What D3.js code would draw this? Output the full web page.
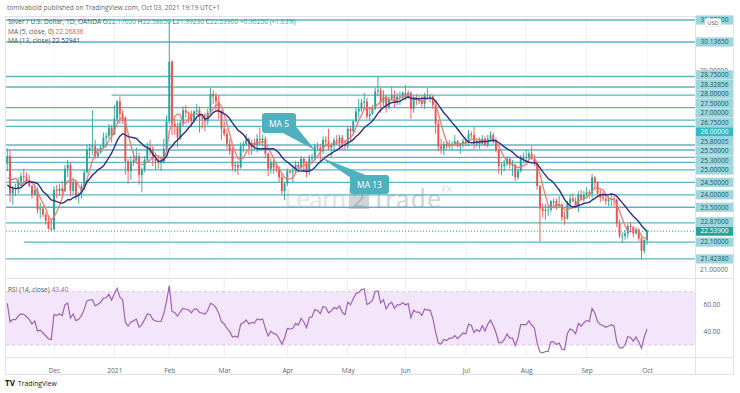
<!DOCTYPE html>
<html><head><meta charset="utf-8">
<script src="https://cdn.jsdelivr.net/npm/d3@7"></script>
<style>
body{margin:0;background:#fff;}
svg{display:block;font-family:"Open Sans","Noto Sans",sans-serif;}
</style></head><body>
<svg id="c" width="740" height="393"></svg>
<script>
// ---------- DATA ----------
const firstDay = "2020-11-06", lastDay = "2021-10-01";
const holidays = ["2020-12-25", "2021-01-01"];
// closes before the visible window (Oct 15 - Nov 5, 2020), used only to warm up MA / RSI
const warmupCloses = [24.25,24.35,24.60,24.55,25.15,24.65,24.65,24.35,24.45,23.30,23.45,23.75,24.20,24.45,23.95,25.25];

const opens = [
 25.25,25.55,24.05,24.25,24.25,24.55,24.75,24.70,24.55,24.35,24.00,24.20,23.40,23.45,23.20,22.95,22.65,
 22.60,24.20,24.15,24.25,24.15,25.05,25.20,24.15,24.50,23.95,24.05,24.35,24.90,25.80,25.90,25.95,25.55,25.70,25.90,26.30,26.35,26.70,
 26.40,27.05,27.75,27.25,27.10,25.35,24.95,25.30,25.40,25.55,24.80,25.00,25.40,25.90,25.85,25.45,25.35,25.30,25.30,25.85,
 26.95,29.35,26.85,26.75,26.30,26.90,27.40,27.30,27.25,26.95,27.35,27.40,27.10,27.05,26.95,27.30,28.05,27.95,27.75,27.35,
 26.65,26.45,26.05,25.75,25.15,25.20,25.10,25.95,26.05,26.25,25.95,26.05,26.00,26.25,26.20,26.25,25.65,25.05,25.30,25.10,25.05,24.70,24.15,
 24.45,24.95,24.90,24.95,25.20,25.10,25.45,25.25,24.90,25.45,25.50,25.95,25.90,25.75,26.20,26.15,25.90,26.00,26.20,26.15,26.30,26.05,
 25.95,26.65,26.55,26.95,27.35,27.45,27.70,27.75,27.15,27.25,27.45,28.15,28.20,27.70,27.95,27.50,27.85,28.00,27.70,27.95,27.95,
 28.10,28.00,28.10,27.45,27.90,27.80,27.80,27.65,28.00,27.95,27.95,27.60,26.85,25.95,25.85,26.05,25.95,26.05,26.05,26.15,25.95,26.05,
 26.15,26.10,26.45,26.40,26.05,26.15,26.05,26.25,26.00,26.25,26.40,26.15,25.80,25.15,25.15,25.25,25.45,25.20,25.20,24.70,24.95,25.50,
 25.50,25.50,25.65,25.45,25.30,24.35,23.45,23.35,23.40,23.40,23.75,23.75,23.55,23.60,23.10,23.05,23.65,23.85,23.75,23.55,24.00,23.85,
 24.00,24.10,24.05,24.70,24.50,24.05,23.90,23.85,23.75,23.80,23.85,23.80,22.85,22.35,22.35,22.45,22.75,22.70,22.45,22.60,22.25,21.75,
 22.1765];
const highs = [
 25.86,25.80,24.35,24.45,24.70,24.90,25.05,24.90,24.80,24.40,24.45,24.30,23.70,23.55,23.30,23.15,23.00,
 24.35,24.40,24.45,24.55,25.20,25.40,25.30,24.70,24.55,24.10,24.45,25.00,26.00,26.05,27.40,26.20,25.90,26.00,26.50,26.50,26.85,26.80,
 27.60,27.80,27.95,27.40,27.15,25.45,25.55,25.75,25.90,25.70,25.10,25.55,26.10,26.20,25.95,25.70,25.55,25.55,26.25,27.20,
 30.98,29.40,27.05,26.90,27.00,27.55,27.60,27.35,27.40,27.40,27.65,27.55,27.20,27.30,27.45,28.30,28.20,28.10,28.00,27.40,
 26.95,26.65,26.25,25.90,25.35,25.35,26.10,26.15,26.45,26.30,26.20,26.25,26.45,26.70,26.40,26.35,25.70,25.45,25.40,25.30,25.15,24.85,24.50,
 25.05,25.00,25.10,25.35,25.30,25.55,25.50,25.35,25.60,25.65,26.05,26.10,26.05,26.35,26.35,26.65,26.10,26.30,26.40,26.40,26.40,26.20,
 26.75,26.75,27.00,27.50,27.85,27.85,28.10,27.90,27.50,27.60,28.30,28.75,28.30,28.20,28.00,27.95,28.35,28.20,28.10,28.15,28.15,
 28.40,28.20,28.15,28.00,28.05,28.00,28.00,28.10,28.30,28.05,28.00,27.75,27.00,26.25,26.15,26.15,26.20,26.15,26.40,26.20,26.05,26.25,
 26.30,26.60,26.55,26.75,26.25,26.30,26.40,26.35,26.40,26.55,26.50,26.30,25.85,25.30,25.40,25.55,25.50,25.40,25.25,25.05,25.60,25.70,
 25.80,25.75,25.95,25.60,25.35,24.40,23.65,23.65,23.60,23.80,23.85,23.85,23.95,23.65,23.35,23.75,24.00,24.05,23.90,24.15,24.20,24.15,
 24.30,24.20,24.85,24.75,24.55,24.20,24.10,24.05,23.95,24.00,23.95,23.85,23.00,22.50,22.60,22.85,22.90,22.75,22.70,22.65,22.30,22.20,
 22.5865];
const lows = [
 24.95,23.70,23.60,23.95,24.05,24.35,24.45,24.45,24.30,23.85,23.95,23.25,23.05,23.10,22.80,22.60,22.55,
 22.60,23.85,23.95,23.90,24.10,24.70,23.95,24.00,23.80,23.65,23.85,24.20,24.85,25.45,25.60,25.45,25.45,25.65,25.85,25.90,26.25,26.10,
 26.40,26.90,26.85,26.85,24.80,24.45,24.60,25.15,25.25,24.40,24.10,24.90,25.30,25.60,25.15,25.00,25.05,24.95,25.25,25.75,
 26.85,26.40,26.40,25.90,26.20,26.75,27.10,26.90,26.70,26.90,27.20,26.50,26.65,26.55,26.80,27.25,27.65,27.40,27.05,26.20,
 26.35,25.85,25.60,24.95,24.90,24.80,25.05,25.70,25.95,25.60,25.60,25.80,25.70,26.00,25.95,25.50,24.75,24.85,24.85,24.90,24.50,24.00,23.78,
 24.35,24.85,24.50,24.85,24.90,25.00,24.95,24.70,24.80,25.25,25.40,25.75,25.35,25.65,25.95,25.80,25.50,25.80,26.00,25.80,25.80,25.80,
 25.85,26.15,26.45,26.90,27.10,27.35,27.40,27.05,26.95,27.20,27.40,27.95,27.30,27.55,27.30,27.45,27.80,27.50,27.60,27.60,27.80,
 27.80,27.85,27.05,27.30,27.60,27.65,27.50,27.45,27.90,27.70,27.45,26.45,25.75,25.65,25.60,25.85,25.85,25.80,25.95,25.90,25.65,25.90,
 25.95,25.95,26.25,25.85,25.90,25.85,26.00,25.95,25.90,26.15,26.05,25.70,24.85,24.80,24.95,25.15,25.05,24.75,24.55,24.60,24.90,25.30,
 25.30,25.40,25.40,25.15,24.20,22.10,23.10,23.00,23.15,23.30,23.45,23.40,23.50,22.95,22.80,23.00,23.55,23.70,23.45,23.30,23.80,23.70,
 23.85,23.85,23.85,24.25,23.90,23.70,23.75,23.60,23.55,23.55,23.55,22.70,22.25,22.05,22.20,22.25,22.50,22.30,22.40,22.15,21.42,21.65,
 21.9923];
const closes = [
 25.55,24.05,24.25,24.25,24.55,24.75,24.70,24.55,24.35,24.00,24.20,23.40,23.45,23.20,22.95,22.65,22.60,
 24.20,24.15,24.25,24.15,25.05,25.20,24.15,24.50,23.95,24.05,24.35,24.90,25.80,25.90,25.95,25.55,25.70,25.90,26.30,26.35,26.70,26.40,
 27.05,27.75,27.25,27.10,25.35,24.95,25.30,25.40,25.55,24.80,25.00,25.40,25.90,25.85,25.45,25.35,25.30,25.30,25.85,26.95,
 29.35,26.85,26.75,26.30,26.90,27.40,27.30,27.25,26.95,27.35,27.40,27.10,27.05,26.95,27.30,28.05,27.95,27.75,27.35,26.65,
 26.45,26.05,25.75,25.15,25.20,25.10,25.95,26.05,26.25,25.95,26.05,26.00,26.25,26.20,26.25,25.65,25.05,25.30,25.10,25.05,24.70,24.15,24.45,
 24.95,24.90,24.95,25.20,25.10,25.45,25.25,24.90,25.45,25.50,25.95,25.90,25.75,26.20,26.15,25.90,26.00,26.20,26.15,26.30,26.05,25.95,
 26.65,26.55,26.95,27.35,27.45,27.70,27.75,27.15,27.25,27.45,28.15,28.20,27.70,27.95,27.50,27.85,28.00,27.70,27.95,27.95,28.10,
 28.00,28.10,27.45,27.90,27.80,27.80,27.65,28.00,27.95,27.95,27.60,26.85,25.95,25.85,26.05,25.95,26.05,26.05,26.15,25.95,26.05,26.15,
 26.10,26.45,26.40,26.05,26.15,26.05,26.25,26.00,26.25,26.40,26.15,25.80,25.15,25.15,25.25,25.45,25.20,25.20,24.70,24.95,25.50,25.50,
 25.50,25.65,25.45,25.30,24.35,23.45,23.35,23.40,23.40,23.75,23.75,23.55,23.60,23.10,23.05,23.65,23.85,23.75,23.55,24.00,23.85,24.00,
 24.10,24.05,24.70,24.50,24.05,23.90,23.85,23.75,23.80,23.85,23.80,22.85,22.35,22.35,22.45,22.75,22.70,22.45,22.60,22.25,21.75,22.18,
 22.539];

// horizontal support / resistance levels drawn on the chart (value, first date or null for full width)
const levelValues = [31.02, 30.1365, 28.75, 28.32856, 28.0, 27.5, 27.0, 26.75, 26.0, 25.80005, 25.5, 25.3, 25.0, 24.5, 24.0, 23.5, 22.87, 22.1, 21.4238];
const levelStarts = [null, null, null, null, "2020-12-31", null, null, null, null, null, null, null, null, null, null, null, null, "2020-11-16", null];
const highlightLevel = 26.0;
const lastPrice = 22.539;
const priceTicks = [21, 29];
const rsiTicks = [60, 40];
const monthLabels = ["Dec","2021","Feb","Mar","Apr","May","Jun","Jul","Aug","Sep","Oct"];

const headerText = "tomlvabold published on TradingView.com, Oct 03, 2021 19:19 UTC+1";
const symbolText = "Silver / U.S. Dollar, 1D, OANDA";
const ohlcText = [["O","22.17650"],["H","22.58650"],["L","21.99230"],["C","22.53900"],["","+0.36250 (+1.63%)"]];
const ma5Value = "22.26836", ma13Value = "22.52941", rsiValue = "43.40";

// ---------- BUILD ----------
const parse = d3.timeParse("%Y-%m-%d"), fmt = d3.timeFormat("%Y-%m-%d");
const hol = new Set(holidays);
const dates = d3.timeDay.range(parse(firstDay), d3.timeDay.offset(parse(lastDay), 1))
  .filter(d => d.getDay() !== 0 && d.getDay() !== 6 && !hol.has(fmt(d)));
const n = dates.length;
const bars = dates.map((d, i) => ({d, i, o: opens[i], h: highs[i], l: lows[i], c: closes[i]}));

const allC = warmupCloses.concat(closes);
const W0 = warmupCloses.length;
function sma(arr, p) { return arr.map((v, i) => i < p - 1 ? null : d3.mean(arr.slice(i - p + 1, i + 1))); }
function rsi(arr, p) {
  const out = arr.map(() => null); let g = 0, l = 0;
  for (let i = 1; i <= p; i++) { const d = arr[i] - arr[i-1]; if (d > 0) g += d; else l -= d; }
  g /= p; l /= p; out[p] = 100 - 100 / (1 + g / l);
  for (let i = p + 1; i < arr.length; i++) {
    const d = arr[i] - arr[i-1];
    g = (g * (p - 1) + Math.max(d, 0)) / p; l = (l * (p - 1) + Math.max(-d, 0)) / p;
    out[i] = l === 0 ? 100 : 100 - 100 / (1 + g / l);
  }
  return out;
}
const ma5 = sma(allC, 5).slice(W0), ma13 = sma(allC, 13).slice(W0), rsiV = rsi(allC, 14).slice(W0);

// layout
const paneL = 6, paneR = 695, outerR = 733;
const priceTop = 16, priceBot = 277, rsiTop = 279, rsiBot = 357, axisBot = 374;

const x = d3.scaleLinear().domain([0, n - 1]).range([7.3, 647]);
const y = d3.scaleLinear().domain([21, 30.1365]).range([269.5, 42]);
const yr = d3.scaleLinear().domain([30, 70]).range([345, 291.7]);
const idxOf = s => { const t = parse(s).getTime(); return dates.findIndex(d => d.getTime() >= t); };

const svg = d3.select("#c");
const C = {up: "#26a69a", dn: "#ef5350", ma5: "#f0766c", ma13: "#2b2f86", lvl: "#5bb6c4",
  lblBg: "#9fd6de", lblTx: "#205c66", txt: "#555", border: "#e0e3eb"};

svg.append("rect").attr("width", 740).attr("height", 393).attr("fill", "#fff");

// header
svg.append("text").attr("x", 7).attr("y", 9.5).attr("font-size", 6.6).attr("fill", "#666").text(headerText);

// frame
svg.append("rect").attr("x", 5.5).attr("y", priceTop + .5).attr("width", outerR - 5).attr("height", axisBot - priceTop)
  .attr("fill", "none").attr("stroke", C.border);
svg.append("line").attr("x1", paneR + .5).attr("x2", paneR + .5).attr("y1", priceTop).attr("y2", axisBot).attr("stroke", C.border);
[priceBot + 1, rsiBot].forEach(yy => svg.append("line").attr("x1", 5).attr("x2", outerR).attr("y1", yy + .5).attr("y2", yy + .5).attr("stroke", C.border));

// faint month grid
const monthIdx = [];
dates.forEach((d, i) => { if (i > 0 && d.getMonth() !== dates[i-1].getMonth()) monthIdx.push(i); });
const gridG = svg.append("g");
monthIdx.forEach(i => {
  gridG.append("line").attr("x1", x(i)).attr("x2", x(i)).attr("y1", priceTop + 1).attr("y2", priceBot).attr("stroke", "#f2f3f7");
  gridG.append("line").attr("x1", x(i)).attr("x2", x(i)).attr("y1", rsiTop).attr("y2", rsiBot).attr("stroke", "#f0eaf5");
});

// clip
const defs = svg.append("defs");
defs.append("clipPath").attr("id", "cp").append("rect").attr("x", paneL).attr("y", priceTop + 1).attr("width", paneR - paneL).attr("height", priceBot - priceTop);
defs.append("clipPath").attr("id", "cr").append("rect").attr("x", paneL).attr("y", rsiTop).attr("width", paneR - paneL).attr("height", rsiBot - rsiTop);

const pg = svg.append("g").attr("clip-path", "url(#cp)");

// watermark
const wm = pg.append("g").attr("font-family", "Lato, 'Open Sans', sans-serif").attr("font-size", 26);
wm.append("text").attr("x", 284).attr("y", 208).attr("fill", "#e1e4ea").attr("textLength", 62).text("Learn");
wm.append("rect").attr("x", 349).attr("y", 188).attr("width", 20).attr("height", 21).attr("fill", "#d2d3d6");
wm.append("text").attr("x", 352.5).attr("y", 207).attr("fill", "#b4b5b9").attr("font-size", 21).text("2");
wm.append("text").attr("x", 371).attr("y", 208).attr("fill", "#d0d3d9").attr("textLength", 70).text("Trade");
wm.append("text").attr("x", 442).attr("y", 192).attr("fill", "#c9dcef").attr("font-size", 8).text("FX");

// level lines
levelValues.forEach((v, k) => {
  const x1 = levelStarts[k] ? x(idxOf(levelStarts[k])) : paneL;
  pg.append("line").attr("x1", x1).attr("x2", paneR).attr("y1", y(v)).attr("y2", y(v))
    .attr("stroke", C.lvl).attr("stroke-width", 1.3);
});

// candles
const bw = 1.9;
const cg = pg.append("g");
cg.selectAll("line.w").data(bars).join("line")
  .attr("x1", d => x(d.i)).attr("x2", d => x(d.i)).attr("y1", d => y(d.h)).attr("y2", d => y(d.l))
  .attr("stroke", d => d.c >= d.o ? C.up : C.dn).attr("stroke-width", 0.9);
cg.selectAll("rect").data(bars).join("rect")
  .attr("x", d => x(d.i) - bw / 2).attr("width", bw)
  .attr("y", d => y(Math.max(d.o, d.c))).attr("height", d => Math.max(0.8, Math.abs(y(d.o) - y(d.c))))
  .attr("fill", d => d.c >= d.o ? C.up : C.dn);

// moving averages
const lineP = arr => d3.line().defined(d => d != null).x((d, i) => x(i)).y(d => y(d))(arr);
pg.append("path").attr("d", lineP(ma5)).attr("fill", "none").attr("stroke", C.ma5).attr("stroke-width", 1.4).attr("opacity", 0.9);
pg.append("path").attr("d", lineP(ma13)).attr("fill", "none").attr("stroke", C.ma13).attr("stroke-width", 1.4);

// last price dotted line
pg.append("line").attr("x1", paneL).attr("x2", paneR).attr("y1", y(lastPrice)).attr("y2", y(lastPrice))
  .attr("stroke", C.up).attr("stroke-dasharray", "1,2").attr("stroke-width", 1);

// callouts
const ma5Tip = [315, 150], ma13Tip = [320, 157];
pg.append("path").attr("d", `M279,131 L294,124 L${ma5Tip[0]},${ma5Tip[1]} Z`).attr("fill", "#4fb1be");
pg.append("rect").attr("x", 262).attr("y", 113).attr("width", 34).attr("height", 20).attr("rx", 3).attr("fill", "#4fb1be");
pg.append("text").attr("x", 279).attr("y", 126.5).attr("text-anchor", "middle").attr("fill", "#fff").attr("font-size", 8.5).text("MA 5");
pg.append("path").attr("d", `M351,178 L368,176 L${ma13Tip[0]},${ma13Tip[1]} Z`).attr("fill", "#4fb1be");
pg.append("rect").attr("x", 350).attr("y", 175).attr("width", 39).attr("height", 19).attr("rx", 3).attr("fill", "#4fb1be");
pg.append("text").attr("x", 369.5).attr("y", 188).attr("text-anchor", "middle").attr("fill", "#fff").attr("font-size", 8.5).text("MA 13");

// legend
const lg = svg.append("g").attr("font-size", 6.6);
const t1 = lg.append("text").attr("x", 8).attr("y", 24).attr("fill", C.txt);
t1.append("tspan").text(symbolText + "  ");
ohlcText.forEach(([k, v]) => { t1.append("tspan").attr("fill", C.txt).text(" " + k); t1.append("tspan").attr("fill", C.up).text(v); });
const t2 = lg.append("text").attr("x", 8).attr("y", 33.5).attr("fill", C.txt);
t2.append("tspan").text("MA (5, close, 0)  "); t2.append("tspan").attr("fill", "#ef5350").text(ma5Value);
const t3 = lg.append("text").attr("x", 8).attr("y", 43).attr("fill", C.txt);
t3.append("tspan").text("MA (13, close)  "); t3.append("tspan").attr("fill", C.ma13).text(ma13Value);

// price axis labels: regular ticks first, then level labels stacked upward when they collide
const ax = svg.append("g").attr("font-size", 6.6);
priceTicks.forEach(v => ax.append("text").attr("x", 714).attr("y", y(v) + 2.4).attr("text-anchor", "middle").attr("fill", "#666").text(v.toFixed(5)));
const lbls = levelValues.map(v => ({v, y: y(v), last: false})).concat([{v: lastPrice, y: y(lastPrice), last: true}])
  .sort((a, b) => b.y - a.y);
const gap = 9.5;
for (let k = 1; k < lbls.length; k++) lbls[k].y = Math.min(lbls[k].y, lbls[k-1].y - gap);
lbls.forEach(l => {
  const bg = l.last ? C.up : (l.v === highlightLevel ? "#35b9c7" : C.lblBg);
  ax.append("rect").attr("x", 696).attr("y", l.y - 4.6).attr("width", 37).attr("height", 9.2).attr("fill", bg);
  ax.append("text").attr("x", 714.5).attr("y", l.y + 2.3).attr("text-anchor", "middle")
    .attr("fill", l.last ? "#fff" : (l.v === highlightLevel ? "#e8fbfd" : C.lblTx)).text(l.v.toFixed(5));
});
// USD badge
ax.append("rect").attr("x", 705).attr("y", 18.5).attr("width", 16).attr("height", 8).attr("rx", 1.5).attr("fill", "#fff").attr("stroke", "#d6d9e0").attr("stroke-width", .6);
ax.append("text").attr("x", 713).attr("y", 25).attr("text-anchor", "middle").attr("font-size", 5.8).attr("fill", "#555").text("USD");

// RSI pane
const rg = svg.append("g").attr("clip-path", "url(#cr)");
rg.append("rect").attr("x", paneL).attr("width", paneR - paneL).attr("y", yr(70)).attr("height", yr(30) - yr(70)).attr("fill", "#f3e6fb");
[70, 30].forEach(v => rg.append("line").attr("x1", paneL).attr("x2", paneR).attr("y1", yr(v)).attr("y2", yr(v))
  .attr("stroke", "#cdb8da").attr("stroke-dasharray", "3,3").attr("stroke-width", .8));
rg.append("path").attr("d", d3.line().defined(d => d != null).x((d, i) => x(i)).y(d => yr(d))(rsiV))
  .attr("fill", "none").attr("stroke", "#9f62b5").attr("stroke-width", 1.2);
const rl = svg.append("text").attr("x", 8).attr("y", 292).attr("font-size", 6.6).attr("fill", C.txt);
rl.append("tspan").text("RSI (14, close)  "); rl.append("tspan").attr("fill", "#9f62b5").text(rsiValue);
rsiTicks.forEach(v => svg.append("text").attr("x", 712).attr("y", yr(v) + 2.4).attr("text-anchor", "middle").attr("font-size", 6.6).attr("fill", "#666").text(v.toFixed(2)));

// time axis
const tickIdx = monthIdx.slice(0, monthLabels.length);
const xa = d3.axisBottom(x).tickValues(tickIdx).tickFormat((d, k) => monthLabels[k]).tickSize(0).tickPadding(0);
const xg = svg.append("g").attr("transform", `translate(0,${rsiBot + 11})`).call(xa);
xg.select(".domain").remove();
xg.selectAll("text").attr("font-size", 6.6).attr("fill", "#666").attr("font-family", "'Open Sans', sans-serif");

// TradingView logo
const tv = svg.append("g");
tv.append("text").attr("x", 5).attr("y", 386).attr("font-size", 8).attr("font-weight", "bold").attr("fill", "#131722").text("TV");
tv.append("text").attr("x", 18).attr("y", 386).attr("font-size", 6.8).attr("fill", "#131722").text("TradingView");
</script>
</body></html>
